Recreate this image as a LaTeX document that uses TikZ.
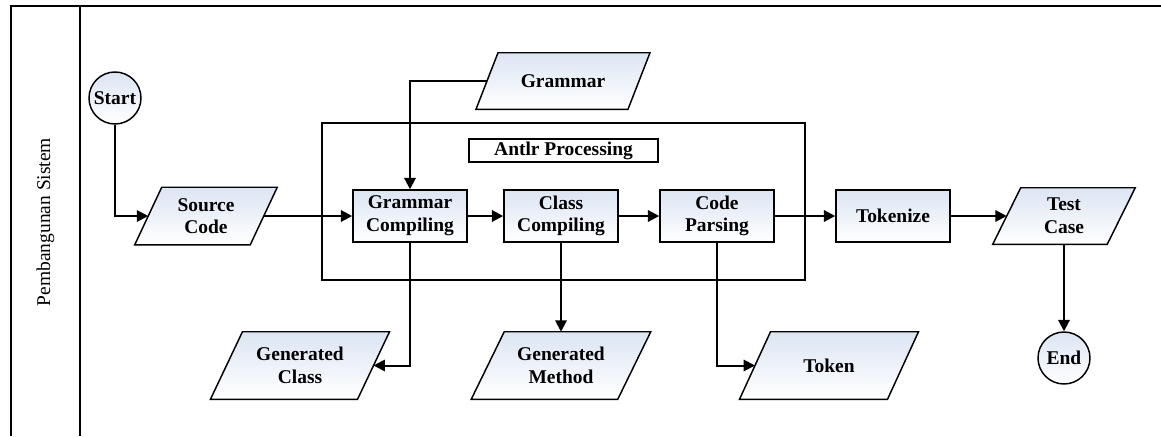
\documentclass[tikz,border=0pt]{standalone}
\usepackage{fontspec}
\setmainfont{Liberation Serif}
\usetikzlibrary{arrows.meta,calc,backgrounds}
\definecolor{fillc}{RGB}{220,229,243}
\begin{document}
\begin{tikzpicture}[x=0.75pt,y=-0.75pt,
  txt/.style={font=\fontsize{14.6}{17}\selectfont\bfseries, align=center, inner sep=0pt},
  proc/.style={txt, draw, line width=1.1pt, top color=fillc, bottom color=white, minimum width=85.5pt, minimum height=39pt},
  para/.style={txt},
  term/.style={txt, circle, draw, line width=1.1pt, top color=fillc, bottom color=white, minimum size=39pt},
  conn/.style={line width=1.5pt, -{Triangle[length=8.5pt,width=8.5pt]}},
  frame/.style={line width=1.1pt},
  parashape/.style={draw, line width=1.1pt, top color=fillc, bottom color=white}]
\useasboundingbox (0,0) rectangle (1161,436);

% swimlane frame
\draw[frame] (11,436) -- (11,6) -- (1161,6);
\draw[frame] (80,6) -- (80,436);
\node[font=\fontsize{14.6}{17}\selectfont, rotate=90, inner sep=0pt] (lane) at (45.5,222) {Pembangunan Sistem};

% Antlr container
\node[draw, line width=1.1pt, minimum width=362.25pt, minimum height=117.75pt, inner sep=0pt] (antlr) at (563.5,201.5) {};
\node[txt, draw, line width=1.1pt, minimum width=141.75pt, minimum height=17.25pt] (lbl) at (563.5,150.5) {Antlr Processing};

% terminals
\node[term] (start) at (115,98) {Start};
\node[term] (end) at (1064,358) {End};

% processes
\node[proc] (gc) at (410,216) {Grammar\\Compiling};
\node[proc] (cc) at (561,216) {Class\\Compiling};
\node[proc] (cp) at (717,216) {Code\\Parsing};
\node[proc] (tokz) at (893,216) {Tokenize};

% data (parallelograms)
\node[para, minimum width=86.25pt, minimum height=42.75pt] (src) at (206,216) {Source\\Code};
\node[para, minimum width=113.6pt, minimum height=42pt] (gram) at (563,81) {Grammar};
\node[para, minimum width=85.5pt, minimum height=42pt] (tc) at (1064,216) {Test\\Case};
\node[para, minimum width=109.9pt, minimum height=50.25pt] (gcls) at (300,365.5) {Generated\\Class};
\node[para, minimum width=109.5pt, minimum height=50.25pt] (gm) at (561,365.5) {Generated\\Method};
\node[para, minimum width=110.6pt, minimum height=50.25pt] (tok) at (829,365.5) {Token};

\begin{pgfonlayer}{background}
\foreach \n/\s in {src/13.5, gram/11, tc/14, gcls/16, gm/16.5, tok/15.5}{
  \path[parashape] ($(\n.south west)+(-\s,0)$) -- ($(\n.south east)+(-\s,0)$)
     -- ($(\n.north east)+(\s,0)$) -- ($(\n.north west)+(\s,0)$) -- cycle;
}
\end{pgfonlayer}

% connectors
\draw[conn] (start.south) |- (src.west);
\draw[conn] (src.east) -- (gc.west);
\draw[conn] (gram.west) -| (gc.north);
\draw[conn] (gc.east) -- (cc.west);
\draw[conn] (cc.east) -- (cp.west);
\draw[conn] (cp.east) -- (tokz.west);
\draw[conn] (tokz.east) -- (tc.west);
\draw[conn] (tc.south) -- (end.north);
\draw[conn] (gc.south) |- (gcls.east);
\draw[conn] (cc.south) -- (gm.north);
\draw[conn] (cp.south) |- (tok.west);
\end{tikzpicture}
\end{document}
